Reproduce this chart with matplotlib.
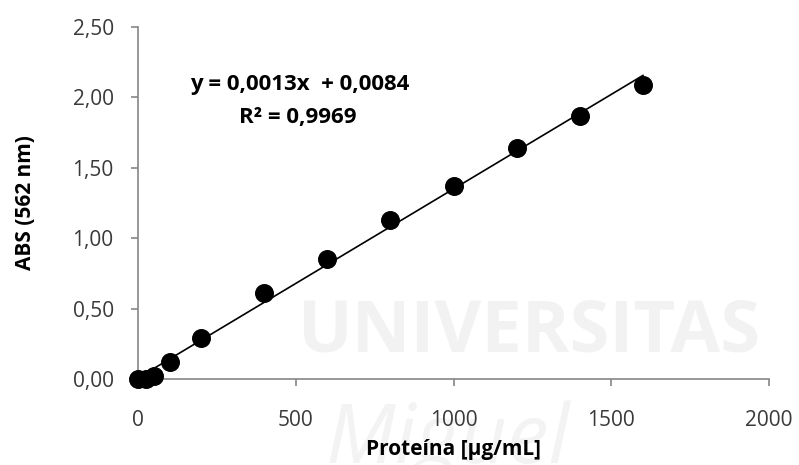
import numpy as np
import matplotlib.pyplot as plt

# datos
proteina = [0, 25, 50, 100, 200, 400, 600, 800, 1000, 1200, 1400, 1600]
absorbancia = [0.00, 0.00, 0.02, 0.12, 0.29, 0.61, 0.85, 1.13, 1.37, 1.64, 1.87, 2.09]

x_ticks = [0, 500, 1000, 1500, 2000]
x_labels = ['0', '500', '1000', '1500', '2000']
y_ticks = [0.0, 0.5, 1.0, 1.5, 2.0, 2.5]
y_labels = ['0,00', '0,50', '1,00', '1,50', '2,00', '2,50']

ecuacion = 'y = 0,0013x  + 0,0084'
r2 = 'R² = 0,9969'

plt.rcParams['font.family'] = ['Open Sans', 'DejaVu Sans']

fig = plt.figure(figsize=(7.99, 4.65), dpi=100)

# marca de agua en un eje de fondo
bg = fig.add_axes([0, 0, 1, 1], zorder=-1)
bg.axis('off')
bg.text(0.663, 0.285, 'UNIVERSITAS', fontsize=52, fontweight='bold',
        color='#f2f2f2', ha='center', va='center')
bg.text(0.56, 0.05, 'Miguel', fontsize=60, style='italic',
        color='#f3f3f3', ha='center', va='center')

ax = fig.add_axes([0.1727, 0.185, 0.79, 0.757])
ax.patch.set_alpha(0)

# linea de tendencia
m, b = np.polyfit(proteina, absorbancia, 1)
xs = np.array([0, max(proteina)])
ax.plot(xs, m * xs + b, color='black', lw=1.2, zorder=2)

ax.scatter(proteina, absorbancia, s=160, color='black', zorder=3, clip_on=False)

ax.set_xlim(0, 2000)
ax.set_ylim(0, 2.5)
ax.set_xticks(x_ticks)
ax.set_xticklabels(x_labels)
ax.set_yticks(y_ticks)
ax.set_yticklabels(y_labels)

for s in ['top', 'right']:
    ax.spines[s].set_visible(False)
for s in ['left', 'bottom']:
    ax.spines[s].set_color('#868686')
    ax.spines[s].set_linewidth(1.2)
ax.tick_params(axis='both', colors='#868686', length=5, width=1.2,
               labelsize=15, labelcolor='#3a3a3a')
ax.tick_params(axis='x', pad=17)
ax.tick_params(axis='y', pad=12.5)

ax.set_xlabel('Proteína [µg/mL]', fontsize=15, fontweight='bold', labelpad=6)
ax.set_ylabel('ABS (562 nm)', fontsize=15, fontweight='bold', labelpad=26)

ax.text(513, 2.09, ecuacion, fontsize=16, fontweight='bold', ha='center', va='center')
ax.text(505, 1.86, r2, fontsize=16, fontweight='bold', ha='center', va='center')

fig.savefig('out.png', dpi=100)
